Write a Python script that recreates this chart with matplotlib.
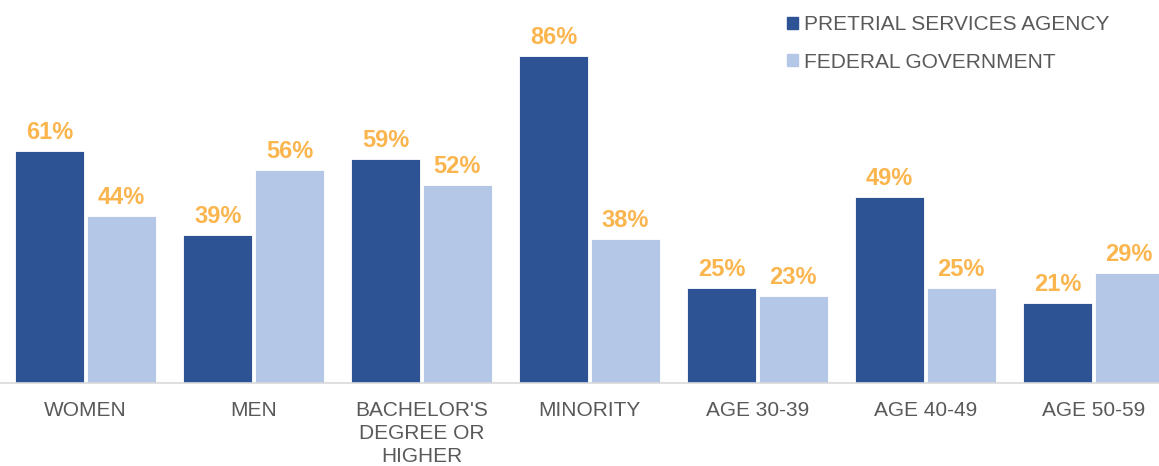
import numpy as np
import matplotlib
matplotlib.use("Agg")
import matplotlib.pyplot as plt
from matplotlib.patches import Patch

plt.rcParams["font.family"] = ["Liberation Sans", "DejaVu Sans"]

categories = ["WOMEN", "MEN", "BACHELOR'S\nDEGREE OR\nHIGHER", "MINORITY",
              "AGE 30-39", "AGE 40-49", "AGE 50-59"]
psa = [61, 39, 59, 86, 25, 49, 21]
fed = [44, 56, 52, 38, 23, 25, 29]
series_names = ["PRETRIAL SERVICES AGENCY", "FEDERAL GOVERNMENT"]

DARK = "#2E5394"
LIGHT = "#B4C7E7"
ORANGE = "#FBB54E"
GREY = "#595959"

fig = plt.figure(figsize=(11.59, 4.66), dpi=100)
ax = fig.add_axes([0, 0.178, 1, 0.822])

x = np.arange(len(categories))
w = 0.41
off = 0.213
b1 = ax.bar(x - off, psa, w, color=DARK, edgecolor="white", linewidth=0.6)
b2 = ax.bar(x + off, fed, w, color=LIGHT, edgecolor="white", linewidth=0.6)

for bars, vals in [(b1, psa), (b2, fed)]:
    for b, v in zip(bars, vals):
        ax.annotate(f"{v}%", (b.get_x() + b.get_width() / 2, v),
                    xytext=(0, 5), textcoords="offset points",
                    ha="center", va="bottom", fontsize=17,
                    fontweight="bold", color=ORANGE)

ax.set_xlim(-0.51, 6.39)
ax.set_ylim(0, 100.7)
ax.set_yticks([])
ax.set_xticks(x)
ax.set_xticklabels(categories, fontsize=15, color=GREY, linespacing=1.25, va="top")
ax.tick_params(axis="x", length=0, pad=13)
for s in ["top", "right", "left"]:
    ax.spines[s].set_visible(False)
ax.spines["bottom"].set_color("#D9D9D9")
ax.spines["bottom"].set_linewidth(1.2)

handles = [Patch(color=DARK), Patch(color=LIGHT)]
fig.legend(handles, series_names, loc="upper left", bbox_to_anchor=(0.663, 1.008),
           frameon=False, fontsize=15, labelcolor=GREY, handlelength=0.5,
           handleheight=0.5, handletextpad=0.3, labelspacing=0.9)

fig.savefig("out.png", dpi=100)
